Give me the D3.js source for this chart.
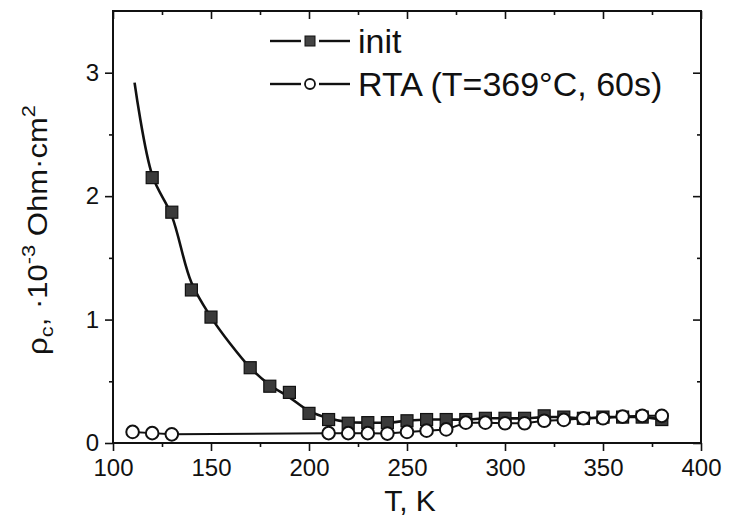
<!DOCTYPE html>
<html>
<head>
<meta charset="utf-8">
<script src="https://cdn.jsdelivr.net/npm/d3@7"></script>
<style>
  body { margin: 0; background: #fff; }
  svg { display: block; font-family: "Liberation Sans", Arial, sans-serif; }
  .axis text { font-size: 24px; fill: #111; }
  .axis line { stroke: #111; stroke-width: 1.6; }
</style>
</head>
<body>
<div id="chart"></div>
<script>
// data
const initT   = [120, 130, 140, 150, 170, 180, 190, 200, 210, 220, 230, 240, 250, 260, 270, 280, 290, 300, 310, 320, 330, 340, 350, 360, 370, 380]
const initRho = [2.15, 1.87, 1.24, 1.02, 0.61, 0.46, 0.41, 0.24, 0.19, 0.16, 0.165, 0.165, 0.18, 0.19, 0.19, 0.19, 0.2, 0.2, 0.2, 0.22, 0.21, 0.2, 0.21, 0.21, 0.21, 0.19]

// the smooth line drawn through the init points (starts above the first point)
const initLineT   = [111, 120, 130, 140, 150, 160, 170, 180, 190, 200, 210, 220, 230, 240, 250, 260, 270, 280, 290, 300, 310, 320, 330, 340, 350, 360, 370, 380]
const initLineRho = [2.92, 2.17, 1.84, 1.3, 1.02, 0.8, 0.61, 0.47, 0.37, 0.26, 0.2, 0.17, 0.165, 0.165, 0.18, 0.19, 0.19, 0.19, 0.2, 0.2, 0.2, 0.21, 0.21, 0.2, 0.21, 0.21, 0.21, 0.19]

const rtaT   = [110, 120, 130, 210, 220, 230, 240, 250, 260, 270, 280, 290, 300, 310, 320, 330, 340, 350, 360, 370, 380]
const rtaRho = [0.09, 0.08, 0.07, 0.08, 0.08, 0.08, 0.076, 0.09, 0.1, 0.11, 0.165, 0.165, 0.16, 0.16, 0.18, 0.187, 0.2, 0.2, 0.214, 0.22, 0.22]

const xMajor = [100, 150, 200, 250, 300, 350, 400]
const xMinor = [125, 175, 225, 275, 325, 375]
const yMajor = [0, 1, 2, 3]
const yMinor = [0.5, 1.5, 2.5]

const legendLabels = ["init", "RTA (T=369°C, 60s)"]

const W = 729, H = 518
const m = {left: 113, right: 701, top: 11, bottom: 443}

const svg = d3.select("#chart").append("svg")
    .attr("width", W)
    .attr("height", H)

const x = d3.scaleLinear().domain([100, 400]).range([m.left, m.right])
const y = d3.scaleLinear().domain([0, 3.5]).range([m.bottom, m.top])

// bottom axis, ticks outward, labelled
svg.append("g").attr("class", "axis")
    .attr("transform", "translate(0," + m.bottom + ")")
    .call(d3.axisBottom(x).tickValues(xMajor).tickSize(8).tickSizeOuter(0).tickPadding(8))
svg.append("g").attr("class", "axis")
    .attr("transform", "translate(0," + m.bottom + ")")
    .call(d3.axisBottom(x).tickValues(xMinor).tickSize(4).tickSizeOuter(0).tickFormat(""))

// top axis, ticks inward
svg.append("g").attr("class", "axis")
    .attr("transform", "translate(0," + m.top + ")")
    .call(d3.axisBottom(x).tickValues(xMajor).tickSize(8).tickSizeOuter(0).tickFormat(""))
svg.append("g").attr("class", "axis")
    .attr("transform", "translate(0," + m.top + ")")
    .call(d3.axisBottom(x).tickValues(xMinor).tickSize(4).tickSizeOuter(0).tickFormat(""))

// left axis, ticks outward, labelled
svg.append("g").attr("class", "axis")
    .attr("transform", "translate(" + m.left + ",0)")
    .call(d3.axisLeft(y).tickValues(yMajor).tickSize(8).tickSizeOuter(0).tickPadding(6).tickFormat(d3.format("d")))
svg.append("g").attr("class", "axis")
    .attr("transform", "translate(" + m.left + ",0)")
    .call(d3.axisLeft(y).tickValues(yMinor).tickSize(4).tickSizeOuter(0).tickFormat(""))

// right axis, ticks inward
svg.append("g").attr("class", "axis")
    .attr("transform", "translate(" + m.right + ",0)")
    .call(d3.axisLeft(y).tickValues(yMajor).tickSize(8).tickSizeOuter(0).tickFormat(""))
svg.append("g").attr("class", "axis")
    .attr("transform", "translate(" + m.right + ",0)")
    .call(d3.axisLeft(y).tickValues(yMinor).tickSize(4).tickSizeOuter(0).tickFormat(""))

svg.selectAll(".axis .domain").remove()

// frame
svg.append("rect")
    .attr("x", m.left)
    .attr("y", m.top)
    .attr("width", m.right - m.left)
    .attr("height", m.bottom - m.top)
    .style("fill", "none")
    .style("stroke", "#111")
    .style("stroke-width", 2)

// lines
const initLine = d3.line()
    .x((d, i) => x(initLineT[i]))
    .y(d => y(d))
    .curve(d3.curveCatmullRom.alpha(0.5))

svg.append("path")
    .datum(initLineRho)
    .attr("d", initLine)
    .style("fill", "none")
    .style("stroke", "#111")
    .style("stroke-width", 2.6)

const rtaLine = d3.line()
    .x((d, i) => x(rtaT[i]))
    .y(d => y(d))

svg.append("path")
    .datum(rtaRho)
    .attr("d", rtaLine)
    .style("fill", "none")
    .style("stroke", "#111")
    .style("stroke-width", 2)

// init squares
const sq = 12
svg.selectAll(".sq")
    .data(initRho)
  .enter().append("rect")
    .attr("class", "sq")
    .attr("x", (d, i) => x(initT[i]) - sq / 2)
    .attr("y", d => y(d) - sq / 2)
    .attr("width", sq)
    .attr("height", sq)
    .style("fill", "#3a3a3a")
    .style("stroke", "#111")
    .style("stroke-width", 1.2)

// RTA circles
svg.selectAll(".circ")
    .data(rtaRho)
  .enter().append("circle")
    .attr("class", "circ")
    .attr("cx", (d, i) => x(rtaT[i]))
    .attr("cy", d => y(d))
    .attr("r", 6.3)
    .style("fill", "#fff")
    .style("stroke", "#111")
    .style("stroke-width", 2)

// legend
const legend = svg.append("g").attr("transform", "translate(270,41)")
const rowGap = 43

legend.selectAll(".lline")
    .data(legendLabels)
  .enter().append("g")
    .attr("class", "lline")
    .attr("transform", (d, i) => "translate(0," + i * rowGap + ")")
    .each(function(d, i) {
        const g = d3.select(this)
        g.append("line").attr("x1", 0).attr("x2", 31).attr("y1", 0).attr("y2", 0)
            .style("stroke", "#111").style("stroke-width", 2.4)
        g.append("line").attr("x1", 49).attr("x2", 80).attr("y1", 0).attr("y2", 0)
            .style("stroke", "#111").style("stroke-width", 2.4)
        if (i === 0) {
            g.append("rect").attr("x", 35).attr("y", -5).attr("width", 10).attr("height", 10)
                .style("fill", "#444").style("stroke", "#111").style("stroke-width", 1)
        } else {
            g.append("circle").attr("cx", 40).attr("cy", 0).attr("r", 5)
                .style("fill", "#fff").style("stroke", "#111").style("stroke-width", 1.8)
        }
        g.append("text")
            .attr("x", 88)
            .attr("y", 12)
            .style("font-size", "34px")
            .style("fill", "#111")
            .text(d)
    })

// axis titles
svg.append("text")
    .attr("x", 410)
    .attr("y", 511)
    .attr("text-anchor", "middle")
    .style("font-size", "30px")
    .style("fill", "#111")
    .text("T, K")

const ylab = svg.append("text")
    .attr("transform", "translate(47,230) rotate(-90) scale(1.15,1)")
    .attr("text-anchor", "middle")
    .style("font-size", "27px")
    .style("fill", "#111")
ylab.append("tspan").text("ρ")
ylab.append("tspan").attr("dy", 6).style("font-size", "19px").text("c")
ylab.append("tspan").attr("dy", -6).text(", ·10")
ylab.append("tspan").attr("dy", -12).style("font-size", "19px").text("-3")
ylab.append("tspan").attr("dy", 12).text(" Ohm·cm")
ylab.append("tspan").attr("dy", -12).style("font-size", "19px").text("2")
</script>
</body>
</html>
